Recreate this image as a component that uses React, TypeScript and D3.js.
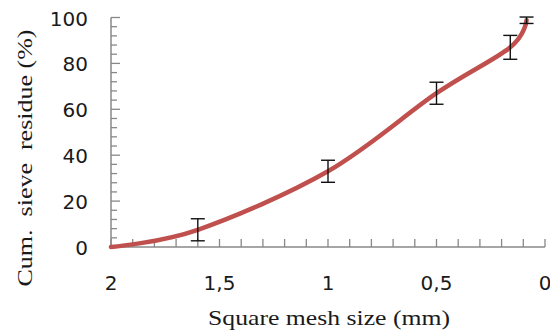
import * as d3 from 'd3';

// sieve data
const meshSize = [2, 1.6, 1, 0.5, 0.16, 0.085];
const residue = [0, 7.5, 33, 67, 87, 98.8];
const errBar = [0, 4.8, 4.8, 4.8, 5.2, 1.4];
const xTicks = [2, 1.5, 1, 0.5, 0];
const xTickLabels = ['2', '1,5', '1', '0,5', '0'];
const yTicks = [0, 20, 40, 60, 80, 100];

const W = 550;
const H = 335;
const axisColor = '#888888';
const lineColor = '#C0504D';

export default function App() {
  const x = d3.scaleLinear().domain([2, 0]).range([111, 545]);
  const y = d3.scaleLinear().domain([0, 100]).range([247, 17.5]);

  const pts = meshSize.map((m, i) => [x(m), y(residue[i])] as [number, number]);
  const line = d3.line().curve(d3.curveCardinal.tension(0));

  const xMinor = d3.range(0, 21).map((i) => i / 10);
  const yMinor = d3.range(0, 26).map((i) => i * 4);

  return (
    <svg
      width={W}
      height={H}
      style={{ position: 'absolute', left: 0, top: 0, background: '#fff' }}
    >
      {/* x axis */}
      <line x1={x(2)} x2={x(0)} y1={y(0)} y2={y(0)} stroke={axisColor} strokeWidth={1.5} />
      {xMinor.map((t) => (
        <line key={'xm' + t} x1={x(t)} x2={x(t)} y1={y(0)} y2={y(0) - 8} stroke={axisColor} strokeWidth={1.3} />
      ))}
      {xTicks.map((t, i) => (
        <text
          key={'xt' + t}
          x={x(t)}
          y={290}
          textAnchor="middle"
          fontFamily="DejaVu Sans"
          fontSize={20}
          fill="#1a1a1a"
        >
          {xTickLabels[i]}
        </text>
      ))}

      {/* y axis */}
      <line x1={x(2)} x2={x(2)} y1={y(0)} y2={y(100)} stroke={axisColor} strokeWidth={1.5} />
      {yMinor.map((t) => (
        <line
          key={'ym' + t}
          x1={x(2)}
          x2={x(2) + (t % 20 === 0 ? 9 : 6)}
          y1={y(t)}
          y2={y(t)}
          stroke={axisColor}
          strokeWidth={1.3}
        />
      ))}
      {yTicks.map((t) => (
        <text
          key={'yt' + t}
          x={88}
          y={y(t) + 1}
          dy="0.35em"
          textAnchor="end"
          fontFamily="DejaVu Sans"
          fontSize={20}
          fill="#1a1a1a"
        >
          {t}
        </text>
      ))}

      {/* curve */}
      <path
        d={line(pts) ?? ''}
        fill="none"
        stroke={lineColor}
        strokeWidth={4.5}
        strokeLinecap="round"
      />

      {/* error bars */}
      {meshSize.map((m, i) =>
        errBar[i] > 0 ? (
          <g key={'eb' + i} stroke="#111" strokeWidth={1.4}>
            <line x1={x(m)} x2={x(m)} y1={y(residue[i] - errBar[i])} y2={y(residue[i] + errBar[i])} />
            <line x1={x(m) - 7} x2={x(m) + 7} y1={y(residue[i] - errBar[i])} y2={y(residue[i] - errBar[i])} />
            <line x1={x(m) - 7} x2={x(m) + 7} y1={y(residue[i] + errBar[i])} y2={y(residue[i] + errBar[i])} />
          </g>
        ) : null
      )}

      {/* axis titles */}
      <text
        x={329}
        y={325}
        textAnchor="middle"
        fontFamily="Liberation Serif"
        fontSize={21}
        fill="#1a1a1a"
        textLength={242}
        lengthAdjust="spacingAndGlyphs"
      >
        Square mesh size (mm)
      </text>
      <text
        transform="translate(32,158) rotate(-90)"
        textAnchor="middle"
        fontFamily="Liberation Serif"
        fontSize={21}
        fill="#1a1a1a"
        textLength={257}
        lengthAdjust="spacingAndGlyphs"
        style={{ whiteSpace: 'pre' }}
      >
        {'Cum.  sieve  residue (%)'}
      </text>
    </svg>
  );
}
